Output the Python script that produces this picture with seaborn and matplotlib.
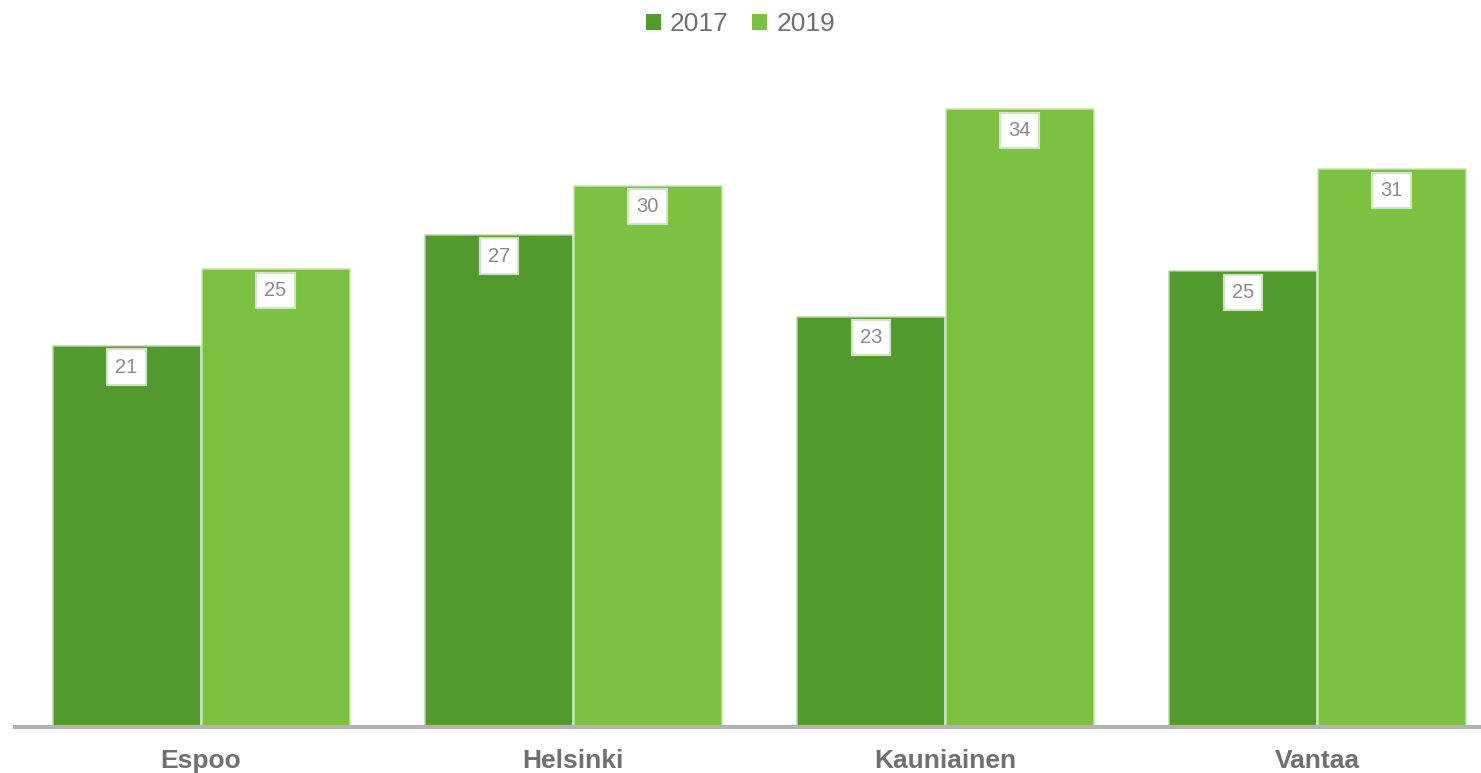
import matplotlib
matplotlib.use("Agg")
import matplotlib.pyplot as plt
import seaborn as sns
import pandas as pd
from matplotlib.patches import Patch

cities = ["Espoo", "Helsinki", "Kauniainen", "Vantaa"]
years = ["2017", "2019"]
values_2017 = [21.0, 27.1, 22.6, 25.1]
values_2019 = [25.2, 29.8, 34.0, 30.7]
labels_2017 = ["21", "27", "23", "25"]
labels_2019 = ["25", "30", "34", "31"]
colors = ["#529A2E", "#7DC143"]

df = pd.DataFrame({
    "city": cities * 2,
    "year": [years[0]] * 4 + [years[1]] * 4,
    "value": values_2017 + values_2019,
})

sns.set_theme(style="white")
plt.rcParams["font.family"] = ["Liberation Sans", "DejaVu Sans"]

fig = plt.figure(figsize=(14.81, 7.73), dpi=100)
ax = fig.add_axes([15 / 1481, 46 / 773, 1 - 15 / 1481, (727 - 60) / 773])

sns.barplot(data=df, x="city", y="value", hue="year", palette=colors,
            width=0.8, ax=ax, legend=False, saturation=1,
            edgecolor=(1, 1, 1, 0.45), linewidth=2)

ax.set_xlim(-0.5, 3.44)
ax.set_ylim(0, 36.65)

for cont, labs in zip(ax.containers, [labels_2017, labels_2019]):
    for bar, lab in zip(cont, labs):
        ax.annotate(lab, (bar.get_x() + bar.get_width() / 2, bar.get_height()),
                    xytext=(0, -16), textcoords="offset points",
                    ha="center", va="center", fontsize=14.5, color="#8a8a8a",
                    bbox=dict(boxstyle="square,pad=0.4", facecolor="white",
                              edgecolor="#cfe6c0", linewidth=1.5))

for s in ["top", "left", "right"]:
    ax.spines[s].set_visible(False)
ax.spines["bottom"].set_color("#b3b3b3")
ax.spines["bottom"].set_linewidth(3)
ax.set_yticks([])
ax.set_xlabel("")
ax.set_ylabel("")
ax.tick_params(axis="x", length=0, pad=16)
for t in ax.get_xticklabels():
    t.set_fontsize(19)
    t.set_fontweight("bold")
    t.set_color("#707070")

handles = [Patch(facecolor=c, edgecolor="none") for c in colors]
fig.legend(handles, years, loc="upper center", bbox_to_anchor=(0.5, 1.015),
           ncol=2, frameon=False, fontsize=19, handlelength=0.55,
           handleheight=0.55, handletextpad=0.35, columnspacing=0.9,
           labelcolor="#707070")

fig.savefig("out.png", dpi=100)
